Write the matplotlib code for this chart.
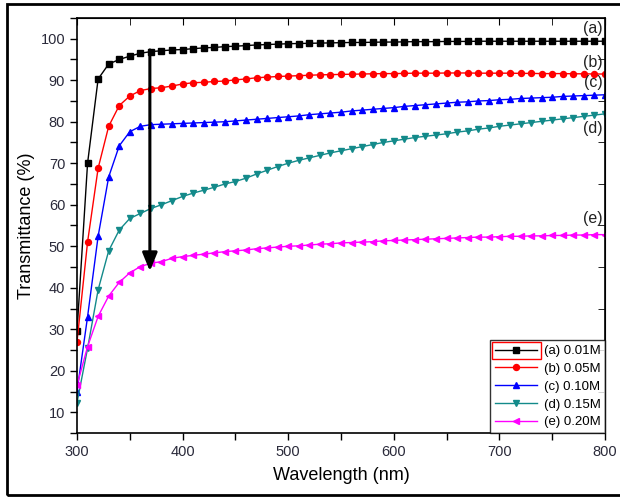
import numpy as np
import matplotlib.pyplot as plt
from matplotlib.patches import Rectangle
from matplotlib.ticker import MultipleLocator

plt.rcParams['font.family'] = ['Liberation Sans', 'DejaVu Sans']

wavelength = np.arange(300, 801, 10)

t_001 = [29.5, 70.0, 90.3, 93.9, 95.0, 95.8, 96.5, 96.9, 97.1, 97.3,
         97.4, 97.6, 97.8, 97.9, 98.1, 98.2, 98.35, 98.5, 98.6, 98.7,
         98.8, 98.85, 98.9, 98.95, 99.0, 99.05, 99.1, 99.1, 99.15, 99.2,
         99.2, 99.25, 99.3, 99.3, 99.3, 99.35, 99.35, 99.35, 99.4, 99.4,
         99.4, 99.4, 99.4, 99.4, 99.4, 99.4, 99.4, 99.4, 99.4, 99.4, 99.4]
t_005 = [27.0, 51.0, 68.8, 78.9, 83.9, 86.2, 87.5, 88.0, 88.2, 88.6,
         89.1, 89.4, 89.5, 89.7, 89.8, 90.1, 90.3, 90.6, 90.75, 90.9,
         91.0, 91.1, 91.2, 91.3, 91.35, 91.4, 91.45, 91.5, 91.55, 91.6,
         91.6, 91.65, 91.7, 91.7, 91.7, 91.75, 91.75, 91.75, 91.7, 91.7,
         91.7, 91.7, 91.65, 91.65, 91.6, 91.6, 91.6, 91.55, 91.55, 91.5, 91.5]
t_010 = [15.0, 33.0, 52.4, 66.7, 74.2, 77.6, 78.9, 79.3, 79.4, 79.5,
         79.6, 79.7, 79.8, 79.9, 80.0, 80.2, 80.4, 80.6, 80.8, 81.0,
         81.2, 81.4, 81.7, 81.9, 82.1, 82.3, 82.6, 82.8, 83.0, 83.2,
         83.4, 83.7, 83.9, 84.1, 84.3, 84.5, 84.7, 84.8, 85.0, 85.1,
         85.3, 85.4, 85.6, 85.7, 85.8, 85.9, 86.1, 86.2, 86.3, 86.4, 86.5]
t_015 = [12.3, 25.4, 39.5, 48.9, 53.9, 56.7, 57.9, 59.1, 60.0, 61.0,
         62.0, 62.8, 63.5, 64.2, 65.0, 65.6, 66.4, 67.4, 68.3, 69.2,
         70.0, 70.7, 71.3, 71.9, 72.5, 73.0, 73.5, 74.0, 74.5, 75.0,
         75.4, 75.8, 76.2, 76.5, 76.8, 77.1, 77.5, 77.8, 78.2, 78.5,
         78.9, 79.2, 79.5, 79.8, 80.1, 80.4, 80.7, 81.0, 81.3, 81.6, 81.9]
t_020 = [16.5, 25.8, 33.1, 38.0, 41.3, 43.6, 45.1, 45.9, 46.3, 47.1,
         47.5, 47.8, 48.1, 48.4, 48.7, 48.9, 49.1, 49.4, 49.6, 49.8,
         50.0, 50.1, 50.3, 50.5, 50.6, 50.8, 50.9, 51.0, 51.1, 51.3,
         51.4, 51.5, 51.6, 51.7, 51.8, 51.9, 52.0, 52.1, 52.2, 52.2,
         52.3, 52.4, 52.4, 52.5, 52.5, 52.6, 52.6, 52.7, 52.7, 52.8, 52.8]

series = [t_001, t_005, t_010, t_015, t_020]
labels = ['(a) 0.01M', '(b) 0.05M', '(c) 0.10M', '(d) 0.15M', '(e) 0.20M']
colors = ['black', 'red', 'blue', '#138a8a', 'magenta']
markers = ['s', 'o', '^', 'v', '<']
tags = ['(a)', '(b)', '(c)', '(d)', '(e)']
tag_y = [102.4, 94.2, 89.4, 78.4, 56.8]

fig = plt.figure(figsize=(6.2, 4.98), dpi=100)
ax = fig.add_axes([0.1242, 0.1305, 0.8516, 0.8334])

for y, lab, c, m in zip(series, labels, colors, markers):
    ax.plot(wavelength, y, color=c, marker=m, markersize=4.3, linewidth=1.0, label=lab)

# arrow showing the drop in transmittance with concentration
ax.annotate('', xy=(369, 44.0), xytext=(369, 97.3),
            arrowprops=dict(arrowstyle='-|>,head_width=0.45,head_length=1.1',
                            color='black', lw=2.2, shrinkA=0, shrinkB=0))

for t, yy in zip(tags, tag_y):
    ax.text(798, yy, t, ha='right', va='center', fontsize=11.5, color='#222222')

ax.set_xlim(300, 800)
ax.set_ylim(5, 105)
ax.xaxis.set_major_locator(MultipleLocator(100))
ax.xaxis.set_minor_locator(MultipleLocator(50))
ax.yaxis.set_major_locator(MultipleLocator(10))
ax.yaxis.set_minor_locator(MultipleLocator(5))
ax.tick_params(which='both', direction='out', labelsize=10.5, labelcolor='#2a2a3a',
               length=5, width=1.0)

# mirrored ticks pointing inward on top and right
sec_top = ax.secondary_xaxis('top')
sec_top.xaxis.set_major_locator(MultipleLocator(100))
sec_top.xaxis.set_minor_locator(MultipleLocator(50))
sec_top.tick_params(which='both', direction='in', length=5, labeltop=False)
sec_right = ax.secondary_yaxis('right')
sec_right.yaxis.set_major_locator(MultipleLocator(10))
sec_right.yaxis.set_minor_locator(MultipleLocator(5))
sec_right.tick_params(which='major', length=0, labelright=False)
sec_right.tick_params(which='minor', direction='in', length=5)

for s in ax.spines.values():
    s.set_linewidth(1.2)

ax.set_xlabel('Wavelength (nm)', fontsize=13, labelpad=6)
ax.set_ylabel('Transmittance (%)', fontsize=13, labelpad=4)

leg = ax.legend(loc='lower right', fontsize=9.5, frameon=True, fancybox=False,
                edgecolor='black', borderaxespad=0, handlelength=3.2,
                handletextpad=0.5, labelspacing=0.42, borderpad=0.35)
leg.get_frame().set_linewidth(1.0)

# red selection box round the first legend sample
fig.canvas.draw()
rend = fig.canvas.get_renderer()
fb = leg.get_frame().get_window_extent(rend)
tb = leg.get_texts()[0].get_window_extent(rend)
inv = fig.transFigure.inverted()
(x0, y0), (x1, y1) = inv.transform([[fb.x0 + 2, tb.y0 - 2], [tb.x0 - 3, tb.y1 + 3]])
fig.add_artist(Rectangle((x0, y0), x1 - x0, y1 - y0, transform=fig.transFigure,
                         fill=False, edgecolor='red', linewidth=1.0))

# outer frame
fig.add_artist(Rectangle((7 / 620, 3 / 498), 1.0, 491 / 498, transform=fig.transFigure,
                         fill=False, edgecolor='black', linewidth=2.0, clip_on=False))

fig.savefig('out.png', dpi=100)
